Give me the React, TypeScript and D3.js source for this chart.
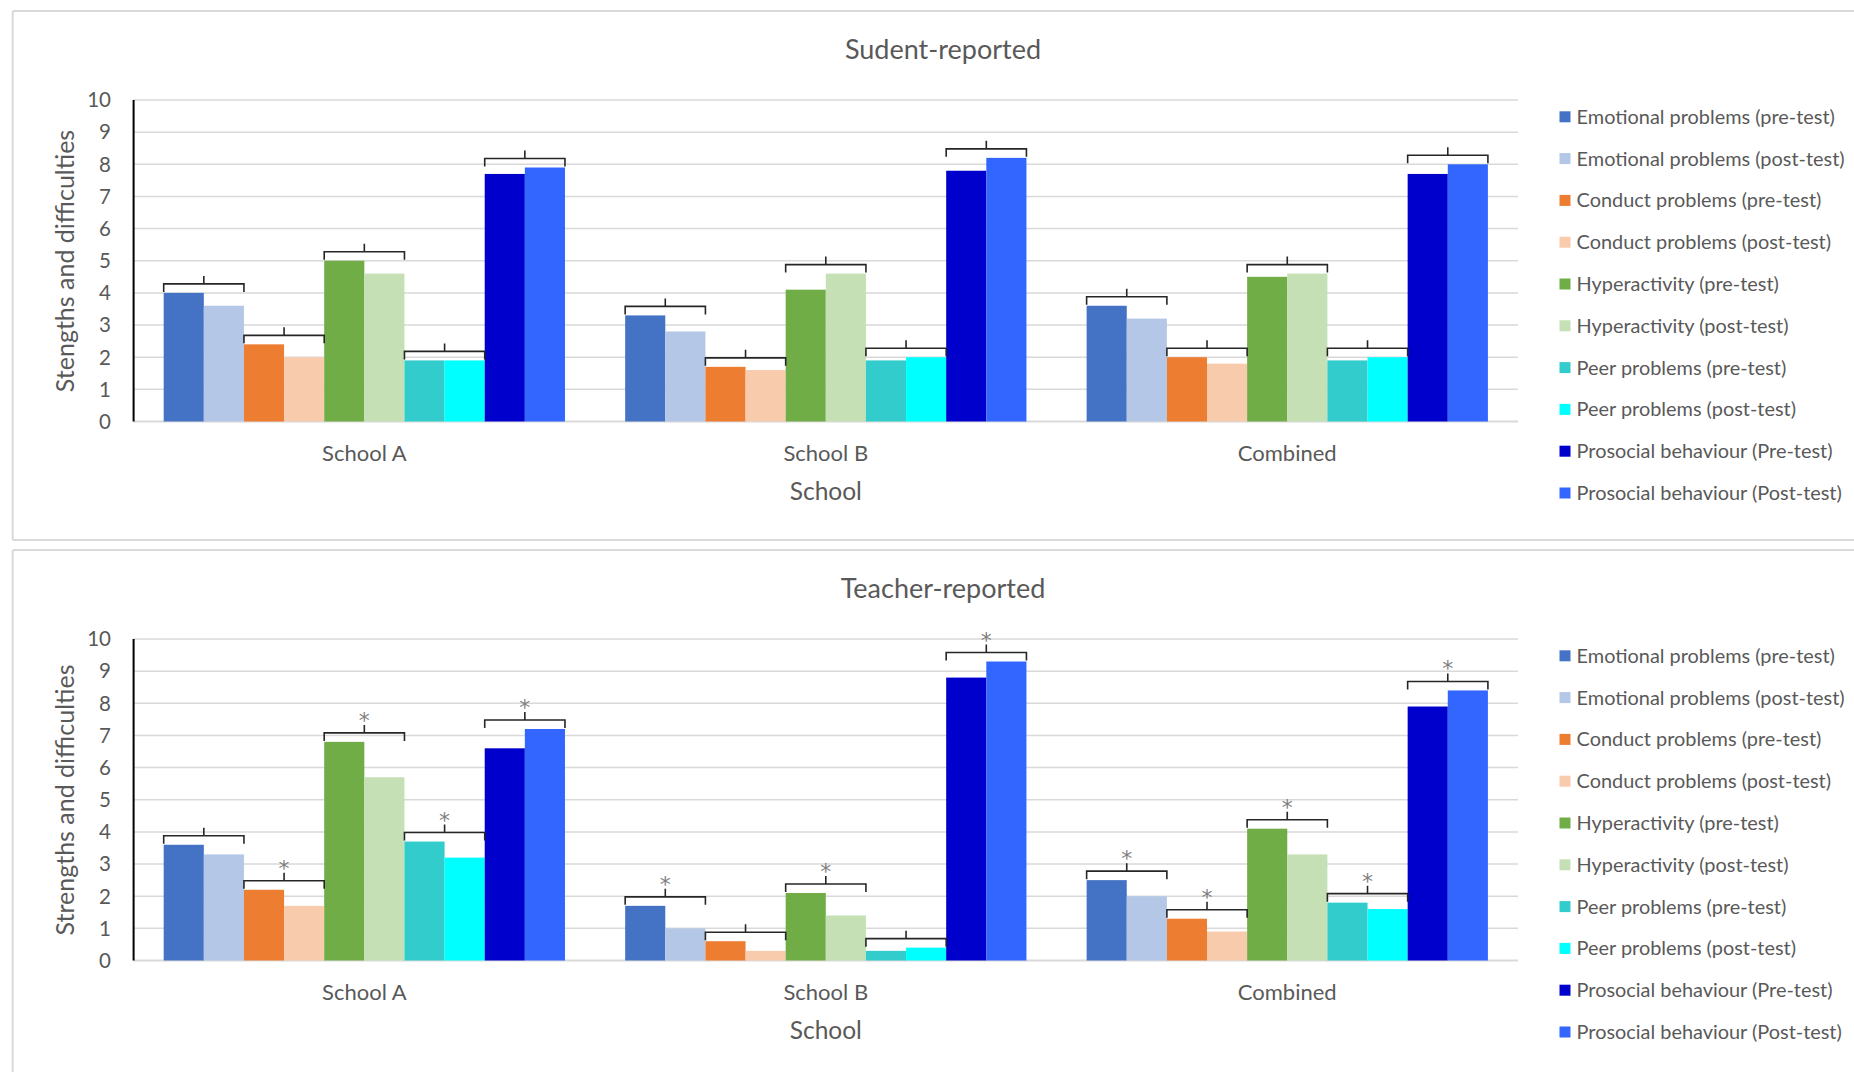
import React from "react";
import * as d3 from "d3";

// ---------- DATA ----------
const categories = ["School A", "School B", "Combined"];

const seriesLabels = [
  "Emotional problems (pre-test)",
  "Emotional problems (post-test)",
  "Conduct problems (pre-test)",
  "Conduct problems (post-test)",
  "Hyperactivity (pre-test)",
  "Hyperactivity (post-test)",
  "Peer problems (pre-test)",
  "Peer problems (post-test)",
  "Prosocial behaviour (Pre-test)",
  "Prosocial behaviour (Post-test)",
];

const seriesColors = [
  "#4472C4",
  "#B4C7E7",
  "#ED7D31",
  "#F8CBAD",
  "#70AD47",
  "#C5E0B4",
  "#33CCCC",
  "#00FFFF",
  "#0000CC",
  "#3366FF",
];

const yTicks = [0, 1, 2, 3, 4, 5, 6, 7, 8, 9, 10];

// Student-reported values (series order), per category
const studentSchoolA = [4.0, 3.6, 2.4, 2.0, 5.0, 4.6, 1.9, 1.9, 7.7, 7.9];
const studentSchoolB = [3.3, 2.8, 1.7, 1.6, 4.1, 4.6, 1.9, 2.0, 7.8, 8.2];
const studentCombined = [3.6, 3.2, 2.0, 1.8, 4.5, 4.6, 1.9, 2.0, 7.7, 8.0];

// Teacher-reported values
const teacherSchoolA = [3.6, 3.3, 2.2, 1.7, 6.8, 5.7, 3.7, 3.2, 6.6, 7.2];
const teacherSchoolB = [1.7, 1.0, 0.6, 0.3, 2.1, 1.4, 0.3, 0.4, 8.8, 9.3];
const teacherCombined = [2.5, 2.0, 1.3, 0.9, 4.1, 3.3, 1.8, 1.6, 7.9, 8.4];

// Significance markers per pre/post pair (Emotional, Conduct, Hyper, Peer, Prosocial)
const studentSigSchoolA = [false, false, false, false, false];
const studentSigSchoolB = [false, false, false, false, false];
const studentSigCombined = [false, false, false, false, false];
const teacherSigSchoolA = [false, true, true, true, true];
const teacherSigSchoolB = [true, false, true, false, true];
const teacherSigCombined = [true, true, true, true, true];

const panels = [
  {
    title: "Sudent-reported",
    yTitle: "Stengths and difficulties",
    values: [studentSchoolA, studentSchoolB, studentCombined],
    sig: [studentSigSchoolA, studentSigSchoolB, studentSigCombined],
    top: 11,
  },
  {
    title: "Teacher-reported",
    yTitle: "Strengths and difficulties",
    values: [teacherSchoolA, teacherSchoolB, teacherCombined],
    sig: [teacherSigSchoolA, teacherSigSchoolB, teacherSigCombined],
    top: 550,
  },
];

// ---------- LAYOUT ----------
const W = 1854;
const H = 1072;
const plotLeft = 133.6;
const plotRight = 1518;
const FONT = "Lato, 'Open Sans', sans-serif";
const TEXT = "#595959";
const GRID = "#D9D9D9";

function Panel({ p }: { p: (typeof panels)[number] }) {
  const top = p.top;
  const y = d3.scaleLinear().domain([0, 10]).range([top + 410.5, top + 89]);
  const x0 = d3.scaleBand<string>().domain(categories).range([plotLeft, plotRight]).paddingInner(0).paddingOuter(0);
  const x1 = d3
    .scaleBand<string>()
    .domain(seriesLabels)
    .range([0, x0.bandwidth()])
    .paddingInner(0)
    .paddingOuter(0.75);
  const bw = x1.bandwidth();

  return (
    <g>
      {/* panel border (top + left + bottom) */}
      <line x1={12.7} x2={W + 10} y1={top} y2={top} stroke={GRID} strokeWidth={2} />
      <line x1={12.7} x2={12.7} y1={top} y2={top + 529} stroke={GRID} strokeWidth={2} />
      {top + 529 < H && (
        <line x1={12.7} x2={W + 10} y1={top + 529} y2={top + 529} stroke={GRID} strokeWidth={2} />
      )}

      {/* title */}
      <text x={943} y={top + 47.5} textAnchor="middle" fontFamily={FONT} fontSize={27} fill={TEXT}>
        {p.title}
      </text>

      {/* gridlines */}
      {yTicks.map((t) => (
        <line
          key={t}
          x1={plotLeft}
          x2={plotRight}
          y1={y(t)}
          y2={y(t)}
          stroke={GRID}
          strokeWidth={t === 0 ? 2 : 1.5}
        />
      ))}

      {/* tick labels */}
      {yTicks.map((t) => (
        <text
          key={t}
          x={111}
          y={y(t) + 7.3}
          textAnchor="end"
          fontFamily={FONT}
          fontSize={20.5}
          fill={TEXT}
        >
          {t}
        </text>
      ))}

      {/* y axis title */}
      <text
        transform={`translate(64,${top + 250}) rotate(-90)`}
        textAnchor="middle"
        dominantBaseline="central"
        fontFamily={FONT}
        fontSize={25}
        fill={TEXT}
      >
        {p.yTitle}
      </text>

      {/* bars */}
      {categories.map((c, ci) => (
        <g key={c}>
          {p.values[ci].map((v, si) => (
            <rect
              key={si}
              x={(x0(c) as number) + (x1(seriesLabels[si]) as number)}
              y={y(v)}
              width={bw}
              height={y(0) - y(v)}
              fill={seriesColors[si]}
            />
          ))}
        </g>
      ))}

      {/* brackets */}
      {categories.map((c, ci) =>
        [0, 1, 2, 3, 4].map((k) => {
          const pre = p.values[ci][2 * k];
          const post = p.values[ci][2 * k + 1];
          const xa = (x0(c) as number) + (x1(seriesLabels[2 * k]) as number);
          const xb = (x0(c) as number) + (x1(seriesLabels[2 * k + 1]) as number) + bw;
          const xm = (xa + xb) / 2;
          const yh = y(Math.max(pre, post)) - 9;
          const star = p.sig[ci][k];
          return (
            <g key={`${c}-${k}`}>
              <path
                d={`M${xa},${yh + 8}V${yh}H${xb}V${yh + 8}M${xm},${yh}V${yh - 8}`}
                fill="none"
                stroke="#262626"
                strokeWidth={1.6}
              />
              {star && (
                <text
                  x={xm}
                  y={yh - 5}
                  textAnchor="middle"
                  fontFamily="'DejaVu Sans', sans-serif"
                  fontSize={22}
                  fill="#7F7F7F"
                >
                  *
                </text>
              )}
            </g>
          );
        })
      )}

      {/* y axis line */}
      <line x1={plotLeft} x2={plotLeft} y1={y(10)} y2={y(0)} stroke="#000" strokeWidth={2} />

      {/* category labels */}
      {categories.map((c) => (
        <text
          key={c}
          x={(x0(c) as number) + x0.bandwidth() / 2}
          y={top + 450}
          textAnchor="middle"
          fontFamily={FONT}
          fontSize={22}
          fill={TEXT}
        >
          {c}
        </text>
      ))}

      {/* x axis title */}
      <text
        x={(plotLeft + plotRight) / 2}
        y={top + 489}
        textAnchor="middle"
        fontFamily={FONT}
        fontSize={24.5}
        fill={TEXT}
      >
        School
      </text>

      {/* legend */}
      {seriesLabels.map((s, i) => {
        const cy = top + 105.8 + i * 41.8;
        return (
          <g key={s}>
            <rect x={1559.5} y={cy - 5.5} width={11} height={11} fill={seriesColors[i]} />
            <text x={1576.6} y={cy + 7} fontFamily={FONT} fontSize={19.9} fill={TEXT}>
              {s}
            </text>
          </g>
        );
      })}
    </g>
  );
}

export default function App() {
  return (
    <svg
      width={W}
      height={H}
      viewBox={`0 0 ${W} ${H}`}
      style={{ position: "absolute", left: 0, top: 0, display: "block", background: "#fff" }}
    >
      <rect x={0} y={0} width={W} height={H} fill="#fff" />
      {panels.map((p) => (
        <Panel key={p.title} p={p} />
      ))}
    </svg>
  );
}
